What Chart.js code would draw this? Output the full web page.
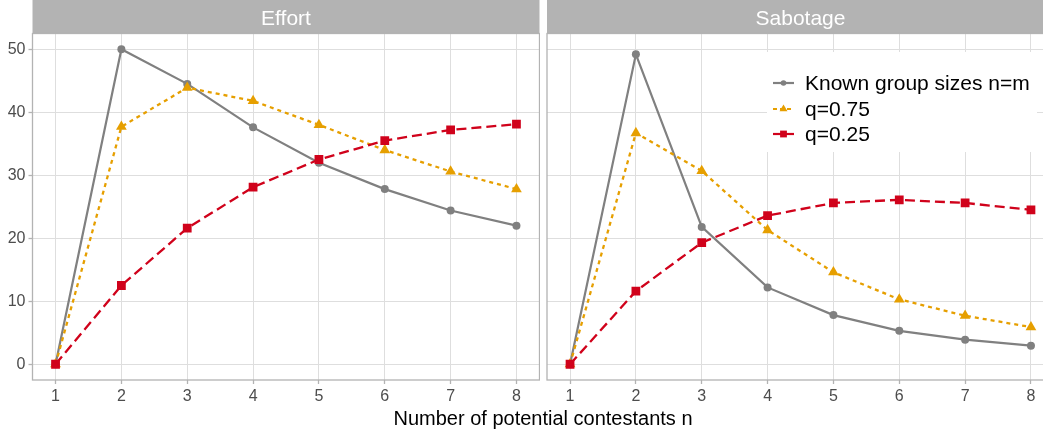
<!DOCTYPE html>
<html><head><meta charset="utf-8">
<script src="https://cdn.jsdelivr.net/npm/chart.js"></script>
<style>
html,body{margin:0;padding:0;width:1043px;height:436px;overflow:hidden;background:#fff;}
#wrap{position:relative;width:1043px;height:436px;overflow:hidden;}
canvas{position:absolute;top:0;}
#xtitle{position:absolute;left:0;width:1086px;top:408px;text-align:center;font-family:'Liberation Sans',Arial,sans-serif;font-size:20px;line-height:20px;color:#000;white-space:nowrap;}
</style></head>
<body><div id="wrap">
<canvas id="c1" width="540" height="436" style="left:0px"></canvas>
<canvas id="c2" width="514" height="436" style="left:540px"></canvas>
<div id="xtitle">Number of potential contestants n</div>
</div>
<script>
// ---- data ----
const contestants = [1, 2, 3, 4, 5, 6, 7, 8];
const yTicks = [0, 10, 20, 30, 40, 50];
const panelTitles = ['Effort', 'Sabotage'];
const seriesNames = ['Known group sizes n=m', 'q=0.75', 'q=0.25'];

const effortKnown = [0, 50.0, 44.5, 37.6, 32.0, 27.8, 24.4, 22.0];
const effortQ75   = [0, 37.7, 43.9, 41.8, 38.0, 34.0, 30.6, 27.8];
const effortQ25   = [0, 12.5, 21.6, 28.1, 32.5, 35.5, 37.2, 38.1];

const sabotageKnown = [0, 49.2, 21.8, 12.2, 7.8, 5.3, 3.9, 2.95];
const sabotageQ75   = [0, 36.7, 30.7, 21.3, 14.6, 10.3, 7.7, 5.9];
const sabotageQ25   = [0, 11.6, 19.3, 23.6, 25.6, 26.1, 25.6, 24.5];

// ---- styles ----
const FONT = "'Liberation Sans', Arial, sans-serif";
Chart.defaults.font.family = FONT;
const GRAY = '#808080', ORANGE = '#E69F00', RED = '#D0021B';
const styles = [
  {color: GRAY,   dash: [],      point: 'circle',   r: 4,   lw: 2.2, order: 3},
  {color: ORANGE, dash: [4, 4],  point: 'triangle', r: 6.2, lw: 2.3, order: 2},
  {color: RED,    dash: [10, 5], point: 'rect',     r: 6.2, lw: 2.3, order: 1}
];

function toPoints(arr) { return contestants.map((x, i) => ({x: x, y: arr[i]})); }

function drawMarker(ctx, style, x, y, r) {
  ctx.beginPath();
  if (style === 'circle') {
    ctx.arc(x, y, r, 0, Math.PI * 2);
  } else if (style === 'triangle') {
    const w = r * Math.sqrt(3) / 2;
    ctx.moveTo(x, y - r);
    ctx.lineTo(x + w, y + r / 2);
    ctx.lineTo(x - w, y + r / 2);
    ctx.closePath();
  } else {
    ctx.rect(x - r, y - r, 2 * r, 2 * r);
  }
  ctx.fill();
}

const panelPlugin = {
  id: 'panel',
  beforeDraw(chart, args, opts) {
    const ctx = chart.ctx, a = chart.chartArea;
    ctx.save();
    ctx.fillStyle = '#b3b3b3';
    ctx.fillRect(a.left, 0, a.right - a.left, a.top);
    ctx.fillStyle = '#ffffff';
    ctx.font = '21px ' + FONT;
    ctx.textAlign = 'center';
    ctx.textBaseline = 'alphabetic';
    ctx.fillText(opts.title, (a.left + a.right) / 2, 25);
    ctx.restore();
  },
  afterDraw(chart, args, opts) {
    const ctx = chart.ctx, a = chart.chartArea;
    ctx.save();
    ctx.strokeStyle = '#b3b3b3';
    ctx.lineWidth = 1.3;
    ctx.strokeRect(a.left, a.top, a.right - a.left, a.bottom - a.top);
    if (opts.legend) {
      const ox = opts.offsetX;
      ctx.fillStyle = '#ffffff';
      ctx.fillRect(767 - ox, 52, 270, 100);
      const symY = [83, 109, 134];
      const txtY = [90, 116, 141];
      const mr = [2.8, 4.6, 3.4];
      ctx.font = '21px ' + FONT;
      ctx.textAlign = 'left';
      ctx.textBaseline = 'alphabetic';
      seriesNames.forEach((name, i) => {
        const s = styles[i];
        ctx.strokeStyle = s.color;
        ctx.fillStyle = s.color;
        ctx.lineWidth = 2.2;
        ctx.setLineDash(i === 1 ? [4, 3] : []);
        ctx.beginPath();
        ctx.moveTo(773 - ox, symY[i]);
        ctx.lineTo(794 - ox, symY[i]);
        ctx.stroke();
        ctx.setLineDash([]);
        drawMarker(ctx, s.point, 783.5 - ox, symY[i], mr[i]);
        ctx.fillStyle = '#000000';
        ctx.fillText(name, 805 - ox, txtY[i]);
      });
    }
    ctx.restore();
  }
};

function makePanel(canvasId, title, seriesArrays, isLeft, offsetX) {
  const datasets = seriesArrays.map((arr, i) => {
    const s = styles[i];
    return {
      label: seriesNames[i],
      data: toPoints(arr),
      borderColor: s.color,
      backgroundColor: s.color,
      borderWidth: s.lw,
      borderDash: s.dash,
      pointStyle: s.point,
      pointRadius: s.r,
      pointHoverRadius: s.r,
      pointBorderWidth: 0,
      pointBackgroundColor: s.color,
      tension: 0,
      order: s.order
    };
  });
  return new Chart(document.getElementById(canvasId), {
    type: 'line',
    data: {datasets: datasets},
    options: {
      responsive: false,
      animation: false,
      events: [],
      layout: {
        autoPadding: false,
        padding: isLeft ? {top: 33.5, left: 0, right: 0.5, bottom: 0}
                        : {top: 33.5, left: 7, right: 0, bottom: 0}
      },
      plugins: {
        legend: {display: false},
        tooltip: {enabled: false},
        panel: {title: title, legend: !isLeft, offsetX: offsetX}
      },
      scales: {
        x: {
          type: 'linear',
          min: 0.65,
          max: 8.35,
          afterBuildTicks: s => { s.ticks = contestants.map(v => ({value: v})); },
          afterFit: s => { s.height = 56; },
          grid: {color: '#dedede', lineWidth: 1, tickColor: '#b3b3b3', tickLength: 4, tickWidth: 1.3},
          border: {display: false},
          ticks: {color: '#4d4d4d', font: {size: 16}, padding: 3, maxRotation: 0, autoSkip: false}
        },
        y: {
          type: 'linear',
          min: -2.5,
          max: 52.5,
          afterBuildTicks: s => { s.ticks = yTicks.map(v => ({value: v})); },
          afterFit: s => { s.width = isLeft ? 32.5 : 0; },
          grid: {color: '#dedede', lineWidth: 1, tickColor: '#b3b3b3', tickLength: 4, tickWidth: 1.3, drawTicks: isLeft},
          border: {display: false},
          ticks: {display: isLeft, color: '#4d4d4d', font: {size: 16}, padding: 3}
        }
      }
    },
    plugins: [panelPlugin]
  });
}

makePanel('c1', panelTitles[0], [effortKnown, effortQ75, effortQ25], true, 0);
makePanel('c2', panelTitles[1], [sabotageKnown, sabotageQ75, sabotageQ25], false, 540);
</script>
</body></html>
